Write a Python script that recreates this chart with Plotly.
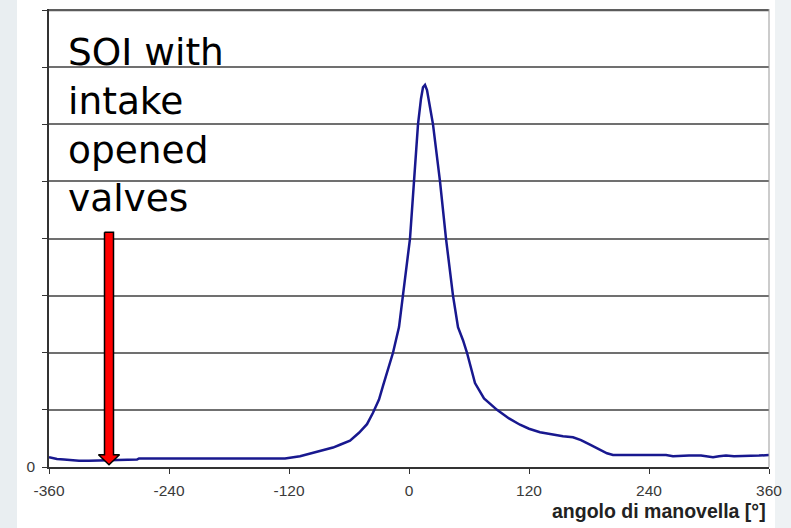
import plotly.graph_objects as go

# ---- data ----
crank_angle = [-360, -352, -345, -330, -320, -305, -290, -272, -270, -240, -200, -160,
               -124, -109, -89, -76, -69, -59, -50, -42, -36, -30, -26, -20, -16, -10,
               -6, -3, 1, 5, 9, 12, 14, 16, 18, 21, 24, 31, 37, 44, 49, 54, 58, 66, 75,
               88, 100, 111, 120, 131, 145, 154, 164, 172, 181, 190, 198, 204, 215, 230,
               245, 257, 264, 272, 280, 292, 304, 310, 317, 325, 337, 350, 360]
pressure = [0.17, 0.14, 0.13, 0.11, 0.11, 0.12, 0.13, 0.13, 0.15, 0.15, 0.15, 0.15,
            0.15, 0.19, 0.28, 0.34, 0.39, 0.46, 0.60, 0.75, 0.95, 1.18, 1.42, 1.75, 2.0, 2.45,
            3.0, 3.5, 4.0, 5.0, 6.0, 6.45, 6.65, 6.69, 6.6, 6.3, 6.0, 5.0, 4.0, 3.0, 2.45, 2.22, 2.0, 1.47, 1.2,
            1.0, 0.85, 0.74, 0.67, 0.61, 0.56, 0.54, 0.52, 0.47, 0.39, 0.31, 0.24, 0.21, 0.21, 0.22,
            0.22, 0.21, 0.19, 0.2, 0.2, 0.2, 0.17, 0.19, 0.2, 0.19, 0.19, 0.2, 0.21]

x_ticks = [-360, -240, -120, 0, 120, 240, 360]
x_tick_labels = ["-360", "-240", "-120", "0", "120", "240", "360"]
y_ticks = [0, 1, 2, 3, 4, 5, 6, 7, 8]
y_tick_labels = ["0", "", "", "", "", "", "", "", ""]

soi_angle = -300          # start of injection marker
soi_arrow_top = 4.11
soi_arrow_tip = 0.04
soi_text = "SOI with<br>intake<br>opened<br>valves"
x_title = "angolo di manovella [°]"

# ---- geometry helpers ----
W, H = 791, 528
ML, MR, MT, MB = 49, 22, 9, 61
y_max = 8.02
plot_w = W - ML - MR
plot_h = H - MT - MB
deg_per_px = 720 / plot_w
val_per_px = y_max / plot_h

bar_hw = 4.5 * deg_per_px
head_hw = 10.5 * deg_per_px
head_h = 10 * val_per_px
ax = [soi_angle - bar_hw, soi_angle + bar_hw, soi_angle + bar_hw, soi_angle + head_hw,
      soi_angle, soi_angle - head_hw, soi_angle - bar_hw, soi_angle - bar_hw]
ay = [soi_arrow_top, soi_arrow_top, soi_arrow_tip + head_h, soi_arrow_tip + head_h,
      soi_arrow_tip, soi_arrow_tip + head_h, soi_arrow_tip + head_h, soi_arrow_top]

fig = go.Figure()
fig.add_trace(go.Scatter(x=crank_angle, y=pressure, mode="lines",
                         line=dict(color="#18188f", width=2.5), hoverinfo="skip",
                         showlegend=False))
fig.add_trace(go.Scatter(x=ax, y=ay, mode="lines", fill="toself", fillcolor="#ff0000",
                         line=dict(color="#000000", width=1.5), hoverinfo="skip",
                         showlegend=False))
# top frame line of the plot area (gridline at the top of the value axis)
fig.add_trace(go.Scatter(x=[x_ticks[0], x_ticks[-1]], y=[y_ticks[-1], y_ticks[-1]],
                         mode="lines", line=dict(color="#5a5a5a", width=2),
                         hoverinfo="skip", showlegend=False, cliponaxis=False))

fig.update_layout(
    width=W, height=H,
    margin=dict(l=ML, r=MR, t=MT, b=MB),
    paper_bgcolor="white", plot_bgcolor="white",
    font=dict(family="Liberation Sans, Arial", color="#333333"),
    xaxis=dict(range=[-360, 360], tickvals=x_ticks, ticktext=x_tick_labels,
               showgrid=False, zeroline=False, showline=True, linecolor="#333333",
               linewidth=1.5, ticks="outside", ticklen=5, tickcolor="#333333",
               ticklabelstandoff=4,
               tickfont=dict(size=15.5, color="#3a3a3a")),
    yaxis=dict(range=[0, y_max], tickvals=y_ticks, ticktext=y_tick_labels,
               showgrid=True, gridcolor="#707070", gridwidth=1.5, zeroline=False,
               showline=True, linecolor="#333333", linewidth=1.5, ticks="outside",
               ticklen=5, tickcolor="#333333", ticklabelstandoff=4,
               tickfont=dict(size=15.5, color="#3a3a3a")),
    shapes=[
        dict(type="rect", xref="paper", yref="paper", x0=-ML / plot_w, x1=(17 - ML) / plot_w,
             y0=-MB / plot_h, y1=1 + MT / plot_h, fillcolor="#e9eef1", line=dict(width=0),
             layer="below"),
        dict(type="rect", xref="paper", yref="paper", x0=1 + 6 / plot_w, x1=1 + MR / plot_w,
             y0=-MB / plot_h, y1=1 + MT / plot_h, fillcolor="#eef2f4", line=dict(width=0),
             layer="below"),
        dict(type="line", xref="paper", yref="paper", x0=1, x1=1, y0=0, y1=1,
             line=dict(color="#999999", width=1)),
    ],
    annotations=[
        dict(text=soi_text, x=-343, xref="x", y=1 - 19 / plot_h, yref="paper",
             xanchor="left", yanchor="top", align="left", showarrow=False,
             font=dict(family="DejaVu Sans", size=37.5, color="#000000")),
        dict(text="<b>" + x_title + "</b>", x=1 - 1 / plot_w, xref="paper",
             y=-44 / plot_h, yref="paper", xanchor="right", yanchor="middle",
             showarrow=False, font=dict(family="Liberation Sans, Arial", size=19.5,
                                        color="#222222")),
    ],
)

fig.write_html("out.html")
